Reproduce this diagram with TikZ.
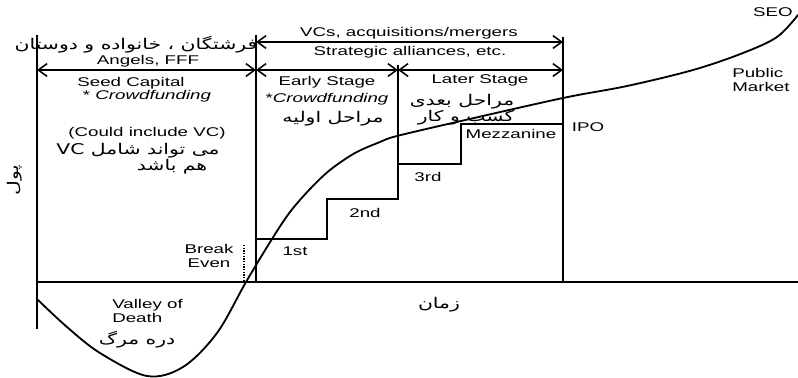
\documentclass[tikz,border=0pt]{standalone}
\usepackage{fontspec}
\setmainfont{Liberation Sans}[FakeStretch=1.48]
\newfontfamily\fafont[Script=Arabic,FakeStretch=1.38]{DejaVu Sans}
\TeXXeTstate=1
\usetikzlibrary{arrows.meta}

\newcommand{\fatext}[1]{{\fafont\beginR #1\endR}}

\begin{document}
\begin{tikzpicture}[x=0.025cm, y=-0.025cm,
    stageline/.style={
        black,
        line width=1.2pt
    },
    stepline/.style={
        black,
        line width=0.9pt,
        line join=miter
    },
    spanarrow/.style={
        black,
        line width=1.1pt,
        {Straight Barb[length=2.2mm,width=3.2mm]}-{Straight Barb[length=2.2mm,width=3.2mm]}
    },
    lifecurve/.style={
        black,
        line width=1.3pt,
        line cap=round
    },
    lbl/.style={
        inner sep=0pt,
        font=\fontsize{9}{9.6}\selectfont,
        align=center
    },
    falbl/.style={
        inner sep=0pt,
        font=\fontsize{10.5}{12}\selectfont
    }
]
\useasboundingbox (0,0) rectangle (798,377);

\coordinate (seedtop) at (37,35);
\coordinate (seedbot) at (37,329);
\coordinate (earlytop) at (256,35);
\coordinate (earlybot) at (256,282);
\coordinate (latertop) at (398,65);
\coordinate (laterbot) at (398,199);
\coordinate (ipotop) at (563,37);
\coordinate (ipobot) at (563,282);
\coordinate (axisend) at (798,282);
\coordinate (vcleft) at (256,42);
\coordinate (vcright) at (563,42);
\coordinate (seedleft) at (37,70);
\coordinate (seedright) at (256,70);
\coordinate (earlyright) at (398,70);
\coordinate (laterright) at (563,70);
\coordinate (step1) at (256,239);
\coordinate (step2) at (327,199);
\coordinate (step3) at (398,164);
\coordinate (step4) at (461,124);
\coordinate (mezzright) at (563,124);
\coordinate (evenbot) at (244,282);
\coordinate (eventop) at (244,245);

\draw[stageline]
(seedtop) -- (seedbot);

\draw[stageline]
(earlytop) -- (earlybot);

\draw[stageline]
(ipotop) -- (ipobot);

\draw[stageline]
(latertop) -- (laterbot);

\draw[
    black,
    line width=1pt
]
(seedbot |- earlybot) -- (axisend);

\draw[spanarrow]
(vcleft) -- (vcright);

\draw[spanarrow]
(seedleft) -- (seedright);

\draw[spanarrow]
(seedright) -- (earlyright);

\draw[spanarrow]
(earlyright) -- (laterright);

\draw[stepline]
(step1) -| (step2) -| (step3) -| (step4) -- (mezzright);

\draw[
    black,
    line width=0.9pt,
    densely dotted
]
(eventop) -- (evenbot);

\draw[lifecurve]
plot[smooth, tension=0.55] coordinates {
    (38,300) (67,327) (100,353) (147,376) (183,367) (217,333)
    (246,282) (272,239) (290,212) (310,189) (330,170) (355,153)
    (380,142) (397,136) (461,121) (563,98) (627,86) (693,70)
    (743,53) (777,37) (798,15)
};

\node[lbl] (vcs) at (409,33) {VCs, acquisitions/mergers};
\node[lbl] (alliances) at (410,52) {Strategic alliances, etc.};
\node[falbl] (angelsfa) at (136,45) {\fatext{فرشتگان ، خانواده و دوستان}};
\node[lbl] (angels) at (148,61) {Angels, FFF};
\node[lbl] (seed) at (131,83) {Seed Capital};
\node[lbl] (seedcf) at (147,96) {* \textit{Crowdfunding}};
\node[lbl] (couldvc) at (147,133) {(Could include VC)};
\node[falbl] (couldvcfa) at (138,151) {\fatext{می تواند شامل \beginL VC\endL{}}};
\node[falbl] (couldvcfb) at (172,167) {\fatext{هم باشد}};
\node[lbl] (early) at (327,82) {Early Stage};
\node[lbl] (earlycf) at (327,99) {*\textit{Crowdfunding}};
\node[falbl] (earlyfa) at (333,119) {\fatext{مراحل اولیه}};
\node[lbl] (later) at (480,80) {Later Stage};
\node[falbl] (laterfa) at (462,102) {\fatext{مراحل بعدی}};
\node[falbl] (laterfb) at (466,118) {\fatext{کسب و کار}};
\node[lbl] (mezz) at (511,134) {Mezzanine};
\node[lbl] (ipo) at (588,127) {IPO};
\node[lbl] (third) at (428,177) {3rd};
\node[lbl] (second) at (365,213) {2nd};
\node[lbl] (first) at (295,251) {1st};
\node[lbl] (breakeven) at (209,256) {Break\\Even};
\node[lbl, align=left, anchor=west] (valley) at (112,311) {Valley of\\Death};
\node[falbl] (valleyfa) at (137,340) {\fatext{دره مرگ}};
\node[falbl] (time) at (439,305) {\fatext{زمان}};
\node[lbl, align=left, anchor=west] (public) at (732,80) {Public\\Market};
\node[lbl] (seo) at (773,12) {SEO};
\node[falbl, rotate=90] (money) at (15,180) {\fatext{پول}};
\end{tikzpicture}
\end{document}
